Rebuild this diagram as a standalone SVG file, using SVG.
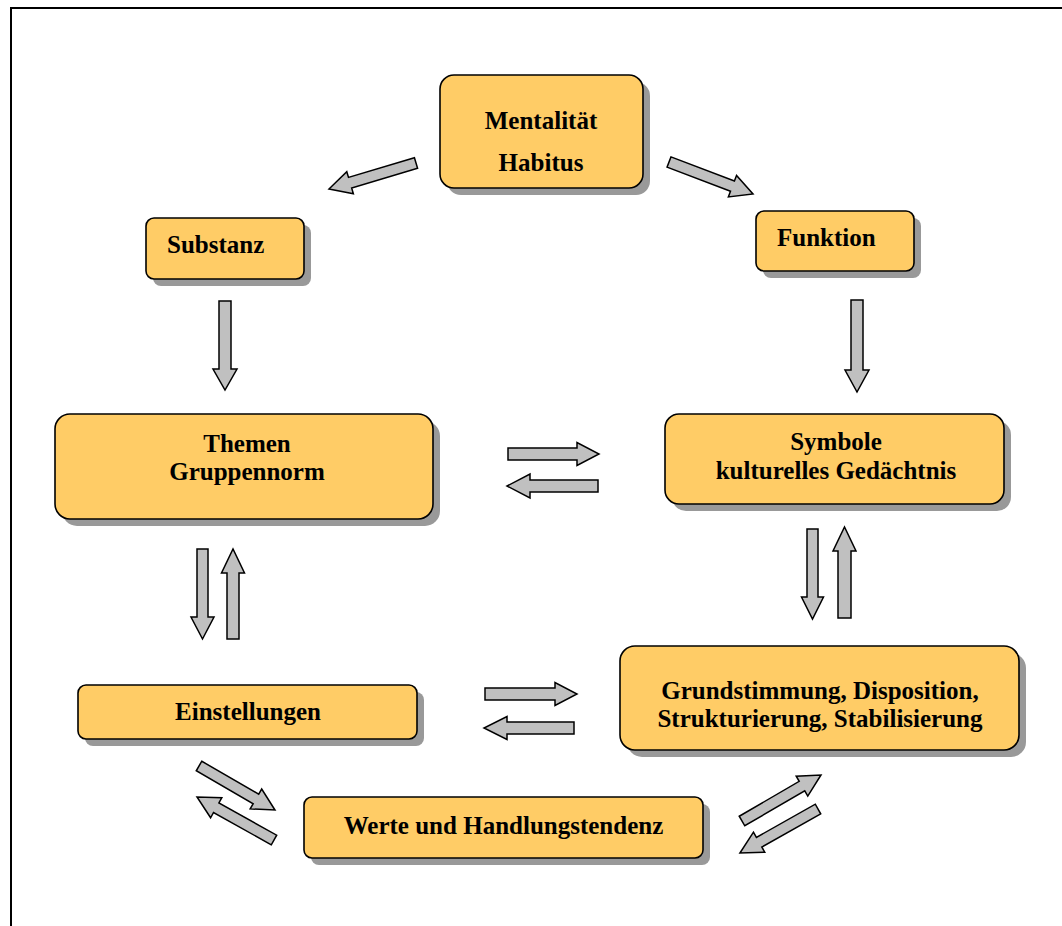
<svg xmlns="http://www.w3.org/2000/svg" width="1062" height="926" viewBox="0 0 1062 926">
  <style>
    .shadow { fill: #999999; }
    .box { fill: #FFCC66; stroke: #000000; stroke-width: 1.6; }
    .label { font-family: "Liberation Serif", "Times New Roman", serif; font-weight: bold; font-size: 25px; fill: #000000; }
    .mid { text-anchor: middle; }
    .arrow { fill: #C0C0C0; stroke: #000000; stroke-width: 1.5; stroke-linejoin: miter; }
    .frame { fill: none; stroke: #000000; stroke-width: 2; }
  </style>

  <rect x="0" y="0" width="1062" height="926" fill="#FFFFFF"/>
  <path class="frame" d="M11,926 V8 H1062"/>

  <!-- nodes -->
  <g id="node-mentalitaet">
    <rect class="shadow" x="447" y="82" width="203" height="113" rx="14"/>
    <rect class="box" x="440" y="75" width="203" height="113" rx="14"/>
    <text class="label mid" x="541" y="129">Mentalität</text>
    <text class="label mid" x="541" y="171">Habitus</text>
  </g>

  <g id="node-substanz">
    <rect class="shadow" x="153" y="225" width="158" height="61" rx="8"/>
    <rect class="box" x="146" y="218" width="158" height="61" rx="8"/>
    <text class="label" x="167" y="253">Substanz</text>
  </g>

  <g id="node-funktion">
    <rect class="shadow" x="763" y="218" width="158" height="60" rx="8"/>
    <rect class="box" x="756" y="211" width="158" height="60" rx="8"/>
    <text class="label" x="777" y="246">Funktion</text>
  </g>

  <g id="node-themen">
    <rect class="shadow" x="62" y="421" width="378" height="105" rx="15"/>
    <rect class="box" x="55" y="414" width="378" height="105" rx="15"/>
    <text class="label mid" x="247" y="452">Themen</text>
    <text class="label mid" x="247" y="480">Gruppennorm</text>
  </g>

  <g id="node-symbole">
    <rect class="shadow" x="672" y="421" width="339" height="90" rx="14"/>
    <rect class="box" x="665" y="414" width="339" height="90" rx="14"/>
    <text class="label mid" x="836" y="450">Symbole</text>
    <text class="label mid" x="836" y="479">kulturelles Gedächtnis</text>
  </g>

  <g id="node-grundstimmung">
    <rect class="shadow" x="627" y="653" width="399" height="104" rx="15"/>
    <rect class="box" x="620" y="646" width="399" height="104" rx="15"/>
    <text class="label mid" x="820" y="699">Grundstimmung, Disposition,</text>
    <text class="label mid" x="820" y="727">Strukturierung, Stabilisierung</text>
  </g>

  <g id="node-einstellungen">
    <rect class="shadow" x="85" y="692" width="339" height="54" rx="8"/>
    <rect class="box" x="78" y="685" width="339" height="54" rx="8"/>
    <text class="label mid" x="248" y="720">Einstellungen</text>
  </g>

  <g id="node-werte">
    <rect class="shadow" x="311" y="804" width="399" height="61" rx="8"/>
    <rect class="box" x="304" y="797" width="399" height="61" rx="8"/>
    <text class="label mid" x="503.5" y="834">Werte und Handlungstendenz</text>
  </g>

  <!-- connectors: block arrows drawn pointing along +x, then placed -->
  <g id="connectors">
    <!-- Mentalität -> Substanz -->
    <path class="arrow" transform="translate(416,163) rotate(163.36)" d="M0,-5.5 H68.8 V-11.5 L90.8,0 L68.8,11.5 V5.5 H0 Z"/>
    <!-- Mentalität -> Funktion -->
    <path class="arrow" transform="translate(669,162) rotate(20.85)" d="M0,-5.5 H67.9 V-11.5 L89.9,0 L67.9,11.5 V5.5 H0 Z"/>
    <!-- Substanz -> Themen -->
    <path class="arrow" transform="translate(225,301) rotate(90)" d="M0,-6 H68 V-12 L89,0 L68,12 V6 H0 Z"/>
    <!-- Funktion -> Symbole -->
    <path class="arrow" transform="translate(857,300) rotate(90)" d="M0,-6 H70 V-12 L92,0 L70,12 V6 H0 Z"/>
    <!-- Themen -> Symbole -->
    <path class="arrow" transform="translate(508,454)" d="M0,-6 H69 V-11.5 L91,0 L69,11.5 V6 H0 Z"/>
    <!-- Symbole -> Themen -->
    <path class="arrow" transform="translate(598,486) rotate(180)" d="M0,-6 H68 V-12 L91,0 L68,12 V6 H0 Z"/>
    <!-- Themen -> Einstellungen -->
    <path class="arrow" transform="translate(202.5,549) rotate(90)" d="M0,-5.5 H68 V-11.5 L90,0 L68,11.5 V5.5 H0 Z"/>
    <!-- Einstellungen -> Themen -->
    <path class="arrow" transform="translate(233,639) rotate(-90)" d="M0,-6 H66 V-11.5 L90,0 L66,11.5 V6 H0 Z"/>
    <!-- Symbole -> Grundstimmung -->
    <path class="arrow" transform="translate(812.5,529) rotate(90)" d="M0,-5.5 H68 V-11 L90,0 L68,11 V5.5 H0 Z"/>
    <!-- Grundstimmung -> Symbole -->
    <path class="arrow" transform="translate(844.5,618) rotate(-90)" d="M0,-6.5 H67 V-11.5 L91,0 L67,11.5 V6.5 H0 Z"/>
    <!-- Einstellungen -> Grundstimmung -->
    <path class="arrow" transform="translate(485,694)" d="M0,-6 H70 V-11.5 L92,0 L70,11.5 V6 H0 Z"/>
    <!-- Grundstimmung -> Einstellungen -->
    <path class="arrow" transform="translate(574,728) rotate(180)" d="M0,-6 H67 V-11.5 L90,0 L67,11.5 V6 H0 Z"/>
    <!-- Einstellungen -> Werte -->
    <path class="arrow" transform="translate(199,766) rotate(30.07)" d="M0,-5.5 H65.8 V-11.5 L87.8,0 L65.8,11.5 V5.5 H0 Z"/>
    <!-- Werte -> Einstellungen -->
    <path class="arrow" transform="translate(274,840) rotate(-150.8)" d="M0,-5.5 H66.2 V-11.5 L88.2,0 L66.2,11.5 V5.5 H0 Z"/>
    <!-- Werte -> Grundstimmung -->
    <path class="arrow" transform="translate(742,821) rotate(-30.2)" d="M0,-5.5 H69.4 V-11.5 L91.4,0 L69.4,11.5 V5.5 H0 Z"/>
    <!-- Grundstimmung -> Werte -->
    <path class="arrow" transform="translate(818,809) rotate(150.6)" d="M0,-5.5 H67.6 V-11.5 L89.6,0 L67.6,11.5 V5.5 H0 Z"/>
  </g>
</svg>
